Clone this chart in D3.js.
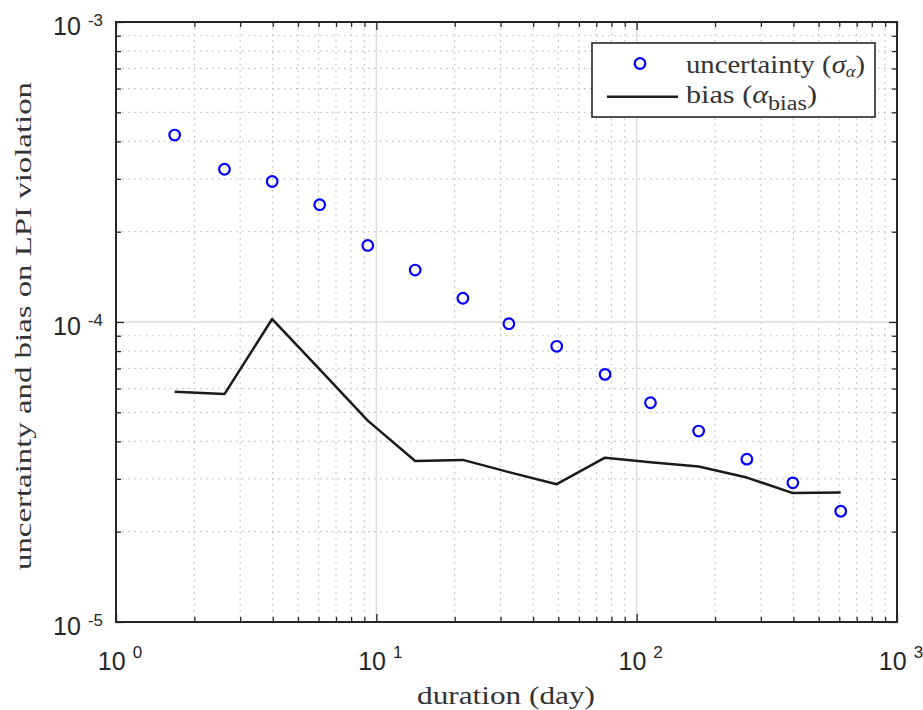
<!DOCTYPE html>
<html><head><meta charset="utf-8">
<script src="https://cdn.jsdelivr.net/npm/d3@7"></script>
<style>body{margin:0;background:#fff}svg{display:block}</style>
</head><body>
<svg id="c" width="923" height="710"></svg>
<script>
// ---- data ----
const duration = [1.68, 2.61, 3.98, 6.06, 9.27, 14.1, 21.5, 32.3, 49.3, 75.6, 113, 173, 265, 398, 608];
const uncertainty = [4.20e-4, 3.23e-4, 2.94e-4, 2.46e-4, 1.80e-4, 1.49e-4, 1.20e-4, 9.87e-5, 8.30e-5, 6.69e-5, 5.38e-5, 4.33e-5, 3.49e-5, 2.91e-5, 2.34e-5];
const bias = [5.86e-5, 5.75e-5, 1.023e-4, 6.95e-5, 4.69e-5, 3.44e-5, 3.47e-5, 3.16e-5, 2.88e-5, 3.53e-5, 3.41e-5, 3.30e-5, 3.03e-5, 2.69e-5, 2.70e-5];
const xTickExp = [0, 1, 2, 3];
const yTickExp = [-5, -4, -3];
const xLabel = "duration (day)";
const yLabel = "uncertainty and bias on LPI violation";

const svg = d3.select("#c");
const L = 116, R = 897, T = 22, B = 622;
const x = d3.scaleLog().domain([1, 1000]).range([L, R]);
const y = d3.scaleLog().domain([1e-5, 1e-3]).range([B, T]);

const xMinor = [], yMinor = [];
for (let e = 0; e < 3; e++) for (let k = 2; k <= 9; k++) xMinor.push(k * Math.pow(10, e));
for (let e = -5; e < -3; e++) for (let k = 2; k <= 9; k++) yMinor.push(k * Math.pow(10, e));
const xMajor = xTickExp.map(e => Math.pow(10, e));
const yMajor = yTickExp.map(e => Math.pow(10, e));

const grid = svg.append("g");
grid.selectAll(".gxm").data(xMinor).join("line")
  .attr("x1", d => x(d)).attr("x2", d => x(d)).attr("y1", T).attr("y2", B)
  .attr("stroke", "#bdbdbd").attr("stroke-width", 1.2).attr("stroke-dasharray", "1.5,4.5");
grid.selectAll(".gym").data(yMinor).join("line")
  .attr("y1", d => y(d)).attr("y2", d => y(d)).attr("x1", L).attr("x2", R)
  .attr("stroke", "#bdbdbd").attr("stroke-width", 1.2).attr("stroke-dasharray", "1.5,4.5");
grid.selectAll(".gxM").data(xMajor.slice(1, -1)).join("line")
  .attr("x1", d => x(d)).attr("x2", d => x(d)).attr("y1", T).attr("y2", B)
  .attr("stroke", "#dddddd").attr("stroke-width", 1.5);
grid.selectAll(".gyM").data(yMajor.slice(1, -1)).join("line")
  .attr("y1", d => y(d)).attr("y2", d => y(d)).attr("x1", L).attr("x2", R)
  .attr("stroke", "#dddddd").attr("stroke-width", 1.5);

const axCol = "#262626";
function ticks(axisGen, vals, size, tr) {
  const g = svg.append("g").attr("transform", tr)
    .call(axisGen.tickValues(vals).tickSize(size).tickFormat(""));
  g.select(".domain").remove();
  g.selectAll("line").attr("stroke", axCol).attr("stroke-width", 1.3);
}
ticks(d3.axisBottom(x), xMajor, -8, `translate(0,${B})`);
ticks(d3.axisBottom(x), xMinor, -5, `translate(0,${B})`);
ticks(d3.axisTop(x), xMajor, -8, `translate(0,${T})`);
ticks(d3.axisTop(x), xMinor, -5, `translate(0,${T})`);
ticks(d3.axisLeft(y), yMajor, -8, `translate(${L},0)`);
ticks(d3.axisLeft(y), yMinor, -5, `translate(${L},0)`);
ticks(d3.axisRight(y), yMajor, -8, `translate(${R},0)`);
ticks(d3.axisRight(y), yMinor, -5, `translate(${R},0)`);

svg.append("rect").attr("x", L).attr("y", T).attr("width", R - L).attr("height", B - T)
  .attr("fill", "none").attr("stroke", axCol).attr("stroke-width", 2);

const sans = "'Liberation Sans', Arial, sans-serif";
xTickExp.forEach(e => {
  const t = svg.append("text").attr("x", x(Math.pow(10, e)) + 4).attr("y", 670)
    .attr("text-anchor", "middle").attr("font-family", sans).attr("font-size", 25).attr("fill", axCol);
  t.append("tspan").text("10");
  t.append("tspan").attr("dx", 7).attr("dy", -12).attr("font-size", 17).text(String(e));
});
yTickExp.forEach(e => {
  const t = svg.append("text").attr("x", 103).attr("y", y(Math.pow(10, e)) + 13)
    .attr("text-anchor", "end").attr("font-family", sans).attr("font-size", 25).attr("fill", axCol);
  t.append("tspan").text("10");
  t.append("tspan").attr("dx", 7).attr("dy", -9).attr("font-size", 17).text(String(e));
});

const serif = "'Liberation Serif', 'Times New Roman', serif";
svg.append("text").attr("x", 506).attr("y", 704).attr("text-anchor", "middle")
  .attr("font-family", serif).attr("font-size", 25).attr("fill", "#333")
  .attr("textLength", 178).attr("lengthAdjust", "spacingAndGlyphs").text(xLabel);
svg.append("text").attr("transform", "translate(31,326) rotate(-90)").attr("text-anchor", "middle")
  .attr("font-family", serif).attr("font-size", 24).attr("fill", "#333")
  .attr("textLength", 488).attr("lengthAdjust", "spacingAndGlyphs").text(yLabel);

const line = d3.line().x((d, i) => x(duration[i])).y(d => y(d));
svg.append("path").datum(bias).attr("d", line).attr("fill", "none")
  .attr("stroke", "#1a1a1a").attr("stroke-width", 2.5).attr("stroke-linejoin", "round");
svg.selectAll(".pt").data(uncertainty).join("circle")
  .attr("cx", (d, i) => x(duration[i])).attr("cy", d => y(d)).attr("r", 5.3)
  .attr("fill", "none").attr("stroke", "#0000ff").attr("stroke-width", 2.2);

const lg = svg.append("g");
lg.append("rect").attr("x", 592).attr("y", 43).attr("width", 283).attr("height", 74)
  .attr("fill", "#fff").attr("stroke", axCol).attr("stroke-width", 1.6);
lg.append("circle").attr("cx", 640).attr("cy", 63.5).attr("r", 5.3)
  .attr("fill", "none").attr("stroke", "#0000ff").attr("stroke-width", 2.2);
lg.append("line").attr("x1", 607).attr("x2", 678).attr("y1", 96.7).attr("y2", 96.7)
  .attr("stroke", "#1a1a1a").attr("stroke-width", 2.5);
const t1 = lg.append("text").attr("x", 686).attr("y", 73).attr("font-family", serif)
  .attr("font-size", 25).attr("fill", "#333")
  .attr("textLength", 179).attr("lengthAdjust", "spacingAndGlyphs");
t1.append("tspan").text("uncertainty (");
t1.append("tspan").attr("font-style", "italic").text("σ");
t1.append("tspan").attr("font-style", "italic").attr("font-size", 16).attr("dy", 4).text("α");
t1.append("tspan").attr("dy", -4).text(")");
const t2 = lg.append("text").attr("x", 686).attr("y", 103).attr("font-family", serif)
  .attr("font-size", 25).attr("fill", "#333")
  .attr("textLength", 131).attr("lengthAdjust", "spacingAndGlyphs");
t2.append("tspan").text("bias (");
t2.append("tspan").attr("font-style", "italic").text("α");
t2.append("tspan").attr("font-size", 20).attr("dy", 7).text("bias");
t2.append("tspan").attr("dy", -7).text(")");
</script>
</body></html>
